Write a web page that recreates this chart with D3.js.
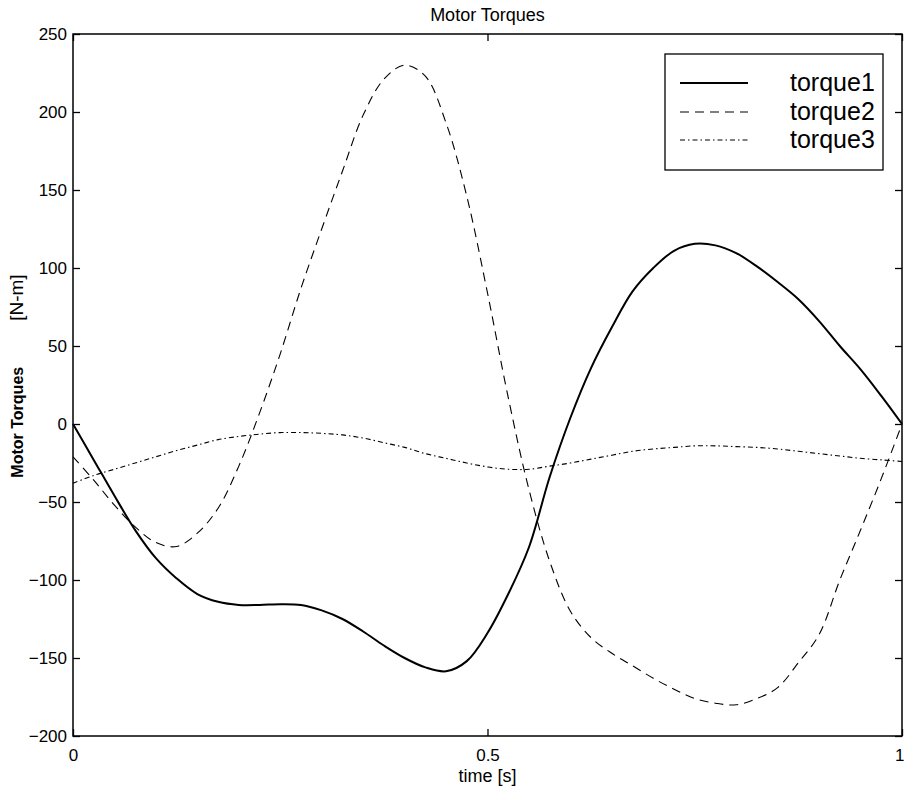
<!DOCTYPE html>
<html>
<head>
<meta charset="utf-8">
<script src="https://cdn.jsdelivr.net/npm/d3@7/dist/d3.min.js"></script>
<style>
  html, body { margin: 0; padding: 0; background: #fff; }
  svg { display: block; font-family: "Liberation Sans", Arial, sans-serif; }
</style>
</head>
<body>
<svg id="chart" width="904" height="791"></svg>
<script>
// ---- data ----
const time = [0, 0.025, 0.05, 0.075, 0.1, 0.125, 0.15, 0.175, 0.2, 0.225, 0.25, 0.275, 0.3, 0.325, 0.35, 0.375, 0.4, 0.425, 0.45, 0.475, 0.5,
              0.525, 0.55, 0.575, 0.6, 0.625, 0.65, 0.675, 0.7, 0.725, 0.75, 0.775, 0.8, 0.825, 0.85, 0.875, 0.9, 0.925, 0.95, 0.975, 1.0];
const torque1 = [0, -23, -46, -68, -86, -99, -109, -114, -116, -116, -115.5, -116, -119.5, -125, -133, -142, -150, -156, -158.5, -152, -134,
                 -109, -79, -34, 4, 36, 62, 85, 100, 111, 115.5, 114.5, 109.5, 101, 91, 80, 66, 50, 35, 18, 0];
const torque2 = [-21, -36, -52, -66, -76, -78.5, -70, -54, -27, 7, 45, 87, 125, 162, 198, 221, 230, 223, 193, 146, 84,
                 17, -42, -88, -120, -137, -147, -155, -163, -170, -176, -179, -180, -176, -169, -153, -135, -100, -68, -35, 0];
const torque3 = [-38, -33, -29, -25, -21, -17, -13.5, -10, -8, -6.5, -5.5, -5.5, -6, -7, -9, -12, -15, -19, -22, -25, -27.5,
                 -29, -29, -27, -25, -22.5, -20, -17.5, -16, -15, -14, -14, -14.5, -15, -16, -17.5, -19, -20.5, -22, -23, -24];
const seriesNames = ["torque1", "torque2", "torque3"];
const yTicks = [250, 200, 150, 100, 50, 0, -50, -100, -150, -200];
const xTicks = [0, 0.5, 1];
const xTickLabels = ["0", "0.5", "1"];
const titleText = "Motor Torques";
const xLabel = "time [s]";
const yLabelBold = "Motor Torques";
const yLabelUnit = "[N-m]";

// ---- layout ----
const svg = d3.select("#chart");
const L = 73, R = 902, T = 34, B = 736;
const x = d3.scaleLinear().domain([0, 1]).range([L, R]);
const y = d3.scaleLinear().domain([-200, 250]).range([B, T]);

const styles = [
  { width: 2, dash: null },
  { width: 1.1, dash: "9,6" },
  { width: 1.1, dash: "5,3,1.5,3" }
];
const allSeries = [torque1, torque2, torque3];

// frame
svg.append("rect").attr("x", L).attr("y", T).attr("width", R - L).attr("height", B - T)
  .attr("fill", "none").attr("stroke", "#000").attr("stroke-width", 1.5);

// axes (ticks inside)
const tickLen = 7;
const yAxisL = d3.axisLeft(y).tickValues(yTicks).tickSize(-tickLen).tickPadding(tickLen + 6).tickFormat(d3.format("d"));
const gyl = svg.append("g").attr("transform", `translate(${L},0)`).call(yAxisL);
const yAxisR = d3.axisRight(y).tickValues(yTicks).tickSize(-tickLen).tickFormat("");
const gyr = svg.append("g").attr("transform", `translate(${R},0)`).call(yAxisR);
const xAxisB = d3.axisBottom(x).tickValues(xTicks).tickSize(-tickLen).tickPadding(tickLen + 6).tickFormat((d, i) => xTickLabels[i]);
const gxb = svg.append("g").attr("transform", `translate(0,${B})`).call(xAxisB);
const xAxisT = d3.axisTop(x).tickValues(xTicks).tickSize(-tickLen).tickFormat("");
const gxt = svg.append("g").attr("transform", `translate(0,${T})`).call(xAxisT);
[gyl, gyr, gxb, gxt].forEach(g => {
  g.select(".domain").remove();
  g.selectAll(".tick line").attr("stroke", "#000").attr("stroke-width", 1.3);
  g.selectAll("text").attr("fill", "#000").attr("font-size", 17).attr("font-family", "Liberation Sans, Arial, sans-serif");
});
gyl.selectAll("text").attr("x", -6);
// last x label sits at the right edge: keep it inside the picture
gxb.selectAll(".tick text").filter(d => d === 1).attr("text-anchor", "end").attr("dx", 2);

// lines
const line = d3.line().x((d, i) => x(time[i])).y(d => y(d)).curve(d3.curveCatmullRom.alpha(0.5));
allSeries.forEach((s, k) => {
  svg.append("path").datum(s).attr("d", line).attr("fill", "none")
    .attr("stroke", "#000").attr("stroke-width", styles[k].width)
    .attr("stroke-dasharray", styles[k].dash);
});

// title and labels
svg.append("text").attr("x", (L + R) / 2).attr("y", 21).attr("text-anchor", "middle")
  .attr("font-size", 18).text(titleText);
svg.append("text").attr("x", (L + R) / 2).attr("y", 782).attr("text-anchor", "middle")
  .attr("font-size", 18).text(xLabel);
const yl = svg.append("text").attr("transform", `translate(23,${376}) rotate(-90)`).attr("text-anchor", "middle")
  .attr("font-size", 16);
yl.append("tspan").attr("font-weight", "bold").text(yLabelBold);
yl.append("tspan").attr("dx", 46).attr("font-size", 19).text(yLabelUnit);

// legend
const lg = svg.append("g");
lg.append("rect").attr("x", 665).attr("y", 54).attr("width", 218).attr("height", 116)
  .attr("fill", "#fff").attr("stroke", "#000").attr("stroke-width", 1.3);
const rowY = [83, 112, 140];
seriesNames.forEach((n, k) => {
  lg.append("line").attr("x1", 680).attr("x2", 748).attr("y1", rowY[k]).attr("y2", rowY[k])
    .attr("stroke", "#000").attr("stroke-width", styles[k].width).attr("stroke-dasharray", styles[k].dash);
  lg.append("text").attr("x", 790).attr("y", rowY[k] + 8).attr("font-size", 25).text(n);
});
</script>
</body>
</html>
